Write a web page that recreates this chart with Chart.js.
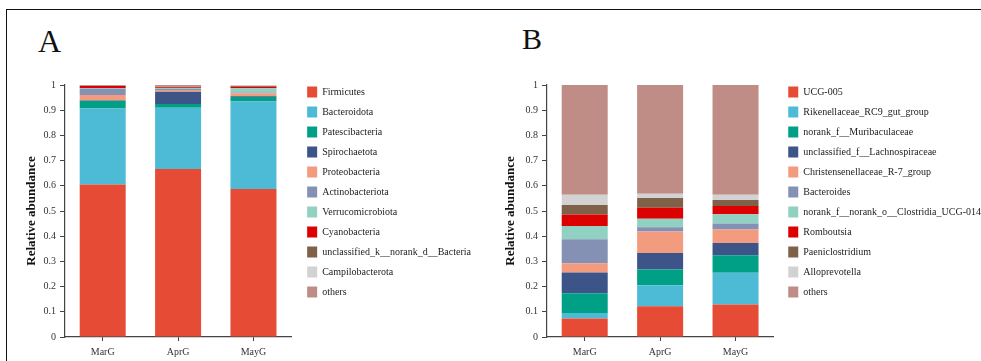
<!DOCTYPE html>
<html>
<head>
<meta charset="utf-8">
<script src="https://cdn.jsdelivr.net/npm/chart.js@4.4.1/dist/chart.umd.min.js"></script>
<style>
  html, body { margin: 0; padding: 0; background: #fff; overflow: hidden; }
  #page { position: relative; width: 981px; height: 361px; }
  #frame { position: absolute; left: 6px; top: 9px; right: 0; bottom: 0;
           border-top: 1.5px solid #111; border-left: 1.5px solid #111; }
  .panel-tag { position: absolute; font-family: "Liberation Serif", serif; color: #111; line-height: 1; }
  canvas { position: absolute; top: 0; }
</style>
</head>
<body>
<div id="page">
  <div id="frame"></div>
  <div class="panel-tag" style="left:38px; top:25px; font-size:32px;">A</div>
  <div class="panel-tag" style="left:522px; top:24px; font-size:30px;">B</div>
  <canvas id="phylumChart" width="481" height="361" style="left:0px"></canvas>
  <canvas id="genusChart" width="509" height="361" style="left:482px"></canvas>
</div>
<script>
const groups = ["MarG", "AprG", "MayG"];
const yTickLabels = ["0", "0.1", "0.2", "0.3", "0.4", "0.5", "0.6", "0.7", "0.8", "0.9", "1"];

// phylum level, bottom to top
const phylumNames = [
  "Firmicutes", "Bacteroidota", "Patescibacteria", "Spirochaetota", "Proteobacteria",
  "Actinobacteriota", "Verrucomicrobiota", "Cyanobacteria",
  "unclassified_k__norank_d__Bacteria", "Campilobacterota", "others"
];
const phylumValues = [
  [0.605, 0.667, 0.587],
  [0.302, 0.243, 0.348],
  [0.030, 0.015, 0.017],
  [0.001, 0.048, 0.003],
  [0.022, 0.007, 0.012],
  [0.026, 0.004, 0.003],
  [0.002, 0.004, 0.017],
  [0.008, 0.003, 0.006],
  [0.002, 0.003, 0.003],
  [0.001, 0.002, 0.002],
  [0.001, 0.004, 0.002]
];

// genus level, bottom to top
const genusNames = [
  "UCG-005", "Rikenellaceae_RC9_gut_group", "norank_f__Muribaculaceae",
  "unclassified_f__Lachnospiraceae", "Christensenellaceae_R-7_group", "Bacteroides",
  "norank_f__norank_o__Clostridia_UCG-014", "Romboutsia", "Paeniclostridium",
  "Alloprevotella", "others"
];
const genusValues = [
  [0.073, 0.122, 0.129],
  [0.022, 0.083, 0.126],
  [0.079, 0.063, 0.069],
  [0.082, 0.065, 0.049],
  [0.037, 0.086, 0.054],
  [0.095, 0.017, 0.023],
  [0.052, 0.033, 0.037],
  [0.046, 0.044, 0.033],
  [0.038, 0.039, 0.024],
  [0.040, 0.016, 0.020],
  [0.436, 0.432, 0.436]
];

const palette = [
  "#E64B35", "#4DBBD5", "#00A087", "#3C5488", "#F39B7F", "#8491B4",
  "#91D1C2", "#DC0000", "#7E6148", "#D2D2D2", "#BF8D86"
];

const serif = "'Liberation Serif', 'Times New Roman', serif";
Chart.defaults.font.family = serif;
Chart.defaults.color = "#333";

function makeDatasets(names, values) {
  return names.map((name, i) => ({
    label: name,
    data: values[i],
    backgroundColor: palette[i],
    borderWidth: 0,
    categoryPercentage: 1,
    barPercentage: 0.61
  }));
}

function stackedChart(canvasId, names, values, gapRight, titlePad) {
  return new Chart(document.getElementById(canvasId), {
    type: "bar",
    data: { labels: groups, datasets: makeDatasets(names, values) },
    options: {
      responsive: false,
      animation: false,
      devicePixelRatio: 1,
      layout: { padding: { top: 77.5, left: 0, right: 0, bottom: 0 } },
      plugins: {
        tooltip: { enabled: false },
        legend: {
          position: "right",
          align: "start",
          maxWidth: 320,
          labels: {
            boxWidth: 10,
            boxHeight: 11,
            padding: 9,
            color: "#222",
            font: { size: 10, family: serif }
          }
        }
      },
      scales: {
        x: {
          stacked: true,
          grid: { display: true, drawOnChartArea: false, offset: false, tickLength: 4, color: "#444" },
          border: { color: "#444", width: 1.2 },
          ticks: { padding: 5, color: "#333", font: { size: 10 } },
          afterFit: s => { s.height = 24; }
        },
        y: {
          stacked: true,
          min: 0,
          max: 1,
          grid: { display: true, drawOnChartArea: false, tickLength: 5, color: "#444" },
          border: { color: "#444", width: 1.2 },
          ticks: {
            stepSize: 0.1,
            padding: 4,
            color: "#333",
            font: { size: 10 },
            callback: (v, i) => yTickLabels[i]
          },
          title: {
            display: true,
            text: "Relative abundance",
            color: "#111",
            padding: { top: titlePad, bottom: 0 },
            font: { size: 13, weight: "bold", family: serif }
          },
          afterFit: s => { s.width = 65; }
        },
        // empty axes used only as spacing around the plot area
        topGap: {
          type: "linear", position: "top", display: true,
          grid: { display: false }, ticks: { display: false }, border: { display: false },
          afterFit: s => { s.height = 7.5; }
        },
        rightGap: {
          type: "linear", position: "right", display: true,
          grid: { display: false }, ticks: { display: false }, border: { display: false },
          afterFit: s => { s.width = gapRight; }
        }
      }
    }
  });
}

stackedChart("phylumChart", phylumNames, phylumValues, 7, 24);
stackedChart("genusChart", genusNames, genusValues, 6, 21);
</script>
</body>
</html>
